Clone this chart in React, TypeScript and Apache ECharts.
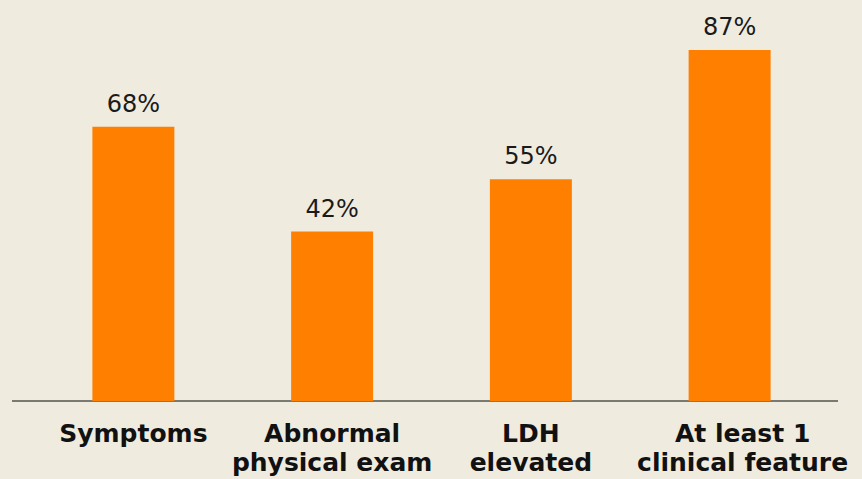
import React, { useEffect, useRef } from "react";
import * as echarts from "echarts";

const categories = ["Symptoms", "Abnormal\nphysical exam", "LDH\nelevated", "At least 1\nclinical feature"];
const values = [68, 42, 55, 87];

export default function App() {
  const ref = useRef<HTMLDivElement>(null);
  useEffect(() => {
    if (!ref.current) return;
    const chart = echarts.init(ref.current, null, { renderer: "svg" });
    chart.setOption({
      animation: false,
      backgroundColor: "#efebdf",
      grid: { left: 34, right: 33, top: 38, bottom: 78 },
      xAxis: {
        type: "category",
        data: categories.map((c, i) =>
          i === categories.length - 1 ? { value: c, textStyle: { padding: [0, 0, 0, 26] } } : c
        ),
        axisLine: { show: false },
        axisTick: { show: false },
        axisLabel: {
          interval: 0,
          margin: 18,
          fontFamily: "DejaVu Sans",
          fontWeight: "bold",
          fontSize: 25,
          lineHeight: 29,
          color: "#111",
        },
      },
      yAxis: {
        type: "value",
        min: 0,
        max: 90,
        show: false,
        splitLine: { show: false },
      },
      series: [
        {
          type: "bar",
          data: values,
          barWidth: 82,
          itemStyle: { color: "#ff8000" },
          label: {
            show: true,
            position: "top",
            distance: 11,
            formatter: "{c}%",
            fontFamily: "DejaVu Sans",
            fontSize: 24,
            color: "#1a1a1a",
          },
        },
      ],
      graphic: [
        {
          type: "line",
          shape: { x1: 12, y1: 401, x2: 838, y2: 401 },
          style: { stroke: "#7a7a72", lineWidth: 2 },
        },
      ],
    });
    return () => chart.dispose();
  }, []);
  return <div ref={ref} style={{ position: "fixed", left: 0, top: 0, width: 862, height: 479 }} />;
}
